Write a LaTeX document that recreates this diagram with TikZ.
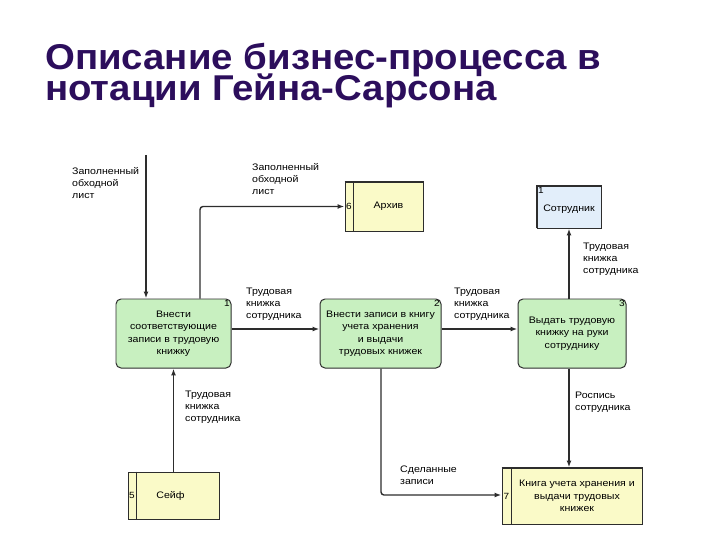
\documentclass[tikz,border=0pt]{standalone}
\usepackage{fontspec}
\setmainfont{Liberation Sans}
\newfontfamily\titlefont[FakeStretch=1.07]{Liberation Sans}
\newfontfamily\diagfont[FakeStretch=1.12]{Liberation Sans}
\usetikzlibrary{arrows.meta,positioning}
\definecolor{titleviolet}{RGB}{44,14,92}
\definecolor{procgreen}{RGB}{200,240,192}
\definecolor{storeyellow}{RGB}{250,250,200}
\definecolor{entityblue}{RGB}{226,238,250}
\definecolor{linegray}{RGB}{45,45,45}
\tikzset{
  proc/.style={draw=linegray, fill=procgreen, rounded corners=5pt, line width=1pt},
  store/.style={draw=linegray, fill=storeyellow, line width=1pt},
  entity/.style={draw=linegray, fill=entityblue, line width=1pt},
  flow/.style={draw=linegray, line width=1.4pt, rounded corners=3pt, -{Latex[length=7pt,width=5pt]}},
  boxtext/.style={font=\diagfont\fontsize{9.5}{12.5}\selectfont, align=center, inner sep=0pt},
  flowtext/.style={font=\diagfont\fontsize{9.5}{12}\selectfont, align=left, anchor=north west, inner sep=0pt},
  boxnum/.style={font=\diagfont\fontsize{9}{9}\selectfont, inner sep=1.5pt},
  titletext/.style={font=\titlefont\fontsize{36}{31.5}\selectfont\bfseries, text=titleviolet, anchor=base west, inner sep=0pt}
}
\begin{document}
\begin{tikzpicture}[x=1bp,y=-1bp]
\useasboundingbox (0,0) rectangle (720,540);
% Title
\node[titletext] (title1) at (45,69.5) {Описание бизнес-процесса в};
\node[titletext] (title2) at (45,101) {нотации Гейна-Сарсона};
% Processes
\node[proc, boxtext, minimum width=115bp, minimum height=69bp] (p1) at (173.5,333.5)
  {Внести\\соответствующие\\записи в трудовую\\книжку};
\node[proc, boxtext, minimum width=121bp, minimum height=69bp] (p2) at (380.5,333.5)
  {Внести записи в книгу\\учета хранения\\и выдачи\\трудовых книжек};
\node[proc, boxtext, minimum width=108bp, minimum height=69bp] (p3) at (572,333.5)
  {Выдать трудовую\\книжку на руки\\сотруднику};
\node[boxnum, anchor=north east] (p1-num) at (p1.north east) {1};
\node[boxnum, anchor=north east] (p2-num) at (p2.north east) {2};
\node[boxnum, anchor=north east] (p3-num) at (p3.north east) {3};
% Data stores
\node[store, minimum width=78bp, minimum height=49bp] (archive) at (384,206.5) {};
\node[store, minimum width=91bp, minimum height=47bp] (safe) at (173.5,495.5) {};
\node[store, minimum width=140bp, minimum height=56bp] (book) at (572,496) {};
\draw[linegray, line width=1pt] ([xshift=9bp]archive.north west) -- ([xshift=9bp]archive.south west);
\draw[linegray, line width=1pt] ([xshift=9bp]safe.north west) -- ([xshift=9bp]safe.south west);
\draw[linegray, line width=1pt] ([xshift=10bp]book.north west) -- ([xshift=10bp]book.south west);
\draw[linegray, line width=1.8pt] (archive.north west) -- (archive.north east);
\draw[linegray, line width=1.8pt] (book.north west) -- (book.north east);
\node[boxnum] (archive-num) at ([xshift=4.5bp]archive.west) {6};
\node[boxnum] (safe-num) at ([xshift=4.5bp]safe.west) {5};
\node[boxnum] (book-num) at ([xshift=5bp]book.west) {7};
\node[boxtext] (archive-text) at ([xshift=4.5bp]archive.center) {Архив};
\node[boxtext] (safe-text) at ([xshift=-3bp]safe.center) {Сейф};
\node[boxtext] (book-text) at ([xshift=5bp]book.center) {Книга учета хранения и\\выдачи трудовых\\книжек};
% External entity
\node[entity, minimum width=64bp, minimum height=42bp] (emp) at (569,207) {};
\draw[linegray, line width=2pt] (emp.south west) -- (emp.north west) -- (emp.north east);
\node[boxnum, anchor=north west] (emp-num) at (emp.north west) {1};
\node[boxtext] (emp-text) at ([yshift=-2bp]emp.center) {Сотрудник};
% Flows
\coordinate (ext) at (146,155);
\draw[flow] (ext) -- (ext |- p1.north);
\draw[flow] ([xshift=26.5bp]p1.north) |- (archive.west);
\draw[flow] ([yshift=4.5bp]p1.east) -- ([yshift=4.5bp]p2.west);
\draw[flow] ([yshift=4.5bp]p2.east) -- ([yshift=4.5bp]p3.west);
\draw[flow] (p3.north -| emp.south) -- (emp.south);
\draw[flow] (safe.north) -- (p1.south);
\draw[flow] (p3.south -| emp.south) -- (book.north -| emp.south);
\draw[flow] ([xshift=0.5bp]p2.south) |- ([yshift=1bp]book.west);
% Flow labels
\node[flowtext] (ext-lbl) at (72,167) {Заполненный\\обходной\\лист};
\node[flowtext] (archive-lbl) at (252,163) {Заполненный\\обходной\\лист};
\node[flowtext] (p1p2-lbl) at (246,288) {Трудовая\\книжка\\сотрудника};
\node[flowtext] (p2p3-lbl) at (454,288) {Трудовая\\книжка\\сотрудника};
\node[flowtext] (emp-lbl) at (583,243) {Трудовая\\книжка\\сотрудника};
\node[flowtext] (safe-lbl) at (185,391) {Трудовая\\книжка\\сотрудника};
\node[flowtext] (book-lbl) at (575,392) {Роспись\\сотрудника};
\node[flowtext] (rec-lbl) at (400,466) {Сделанные\\записи};
\end{tikzpicture}
\end{document}
